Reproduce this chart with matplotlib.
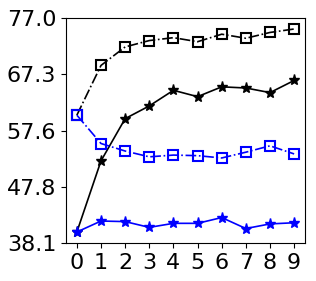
import numpy as np
import matplotlib.pyplot as plt

x = np.arange(10)
black_sq = [60.2, 68.8, 72.0, 73.1, 73.6, 72.9, 74.2, 73.5, 74.5, 75.1]
black_star = [40.0, 52.3, 59.6, 61.8, 64.5, 63.4, 65.1, 64.9, 64.1, 66.2]
blue_sq = [60.2, 55.3, 54.0, 53.0, 53.3, 53.2, 52.8, 53.8, 54.9, 53.5]
blue_star = [40.0, 41.9, 41.8, 40.8, 41.5, 41.5, 42.5, 40.6, 41.4, 41.6]
ytick_labels = ['38.1', '47.8', '57.6', '67.3', '77.0']

fig = plt.figure(figsize=(3.16, 2.81), dpi=100)
ax = fig.add_axes([66/316, 1-243/281, (305-66)/316, (243-18)/281])

ax.plot(x, black_sq, 'k-.', marker='s', mfc='none', mew=1.5, ms=7, lw=1.2)
ax.plot(x, black_star, 'k-', marker='*', ms=8, lw=1.2)
ax.plot(x, blue_sq, 'b-.', marker='s', mfc='none', mew=1.5, ms=7, lw=1.2)
ax.plot(x, blue_star, 'b-', marker='*', ms=8, lw=1.2)

ax.set_ylim(38.1, 77.0)
ax.set_yticks(np.linspace(38.1, 77.0, 5))
ax.set_yticklabels(ytick_labels)
ax.set_xticks(x)
ax.tick_params(labelsize=16)

fig.savefig('out.png', dpi=100)
